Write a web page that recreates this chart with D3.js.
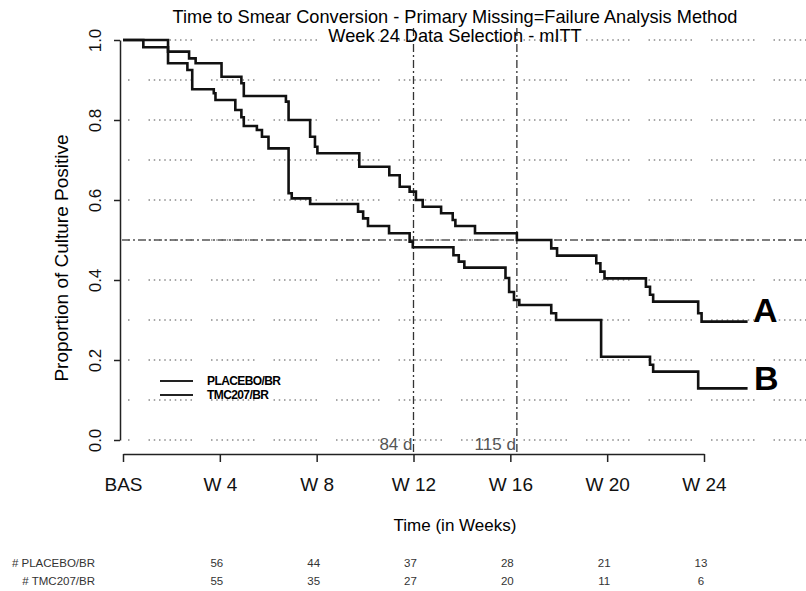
<!DOCTYPE html>
<html>
<head>
<meta charset="utf-8">
<script src="https://cdn.jsdelivr.net/npm/d3@7"></script>
<style>
	body { margin: 0; background: #fff; }
	text { font-family: "Liberation Sans", Arial, sans-serif; }
</style>
</head>
<body>
<svg id="canvas"></svg>
<script>
let width = 806;
let height = 591;

// tick labels on the time axis (weeks)
let tickWeeks = [0, 4, 8, 12, 16, 20, 24];
let tickLabels = ['BAS', 'W 4', 'W 8', 'W 12', 'W 16', 'W 20', 'W 24'];
let yTicks = [0, 0.2, 0.4, 0.6, 0.8, 1.0];
let gridValues = [0, 0.1, 0.2, 0.3, 0.4, 0.5, 0.6, 0.7, 0.8, 0.9, 1.0];

// Kaplan-Meier steps: [week, proportion after the drop]
let placeboSteps = [
	[0, 1.0], [1.86, 0.971], [2.73, 0.954], [3.0, 0.942], [4.07, 0.908], [4.89, 0.892],
	[4.99, 0.86], [6.73, 0.846], [6.84, 0.80], [7.73, 0.758], [7.93, 0.733], [8.03, 0.717],
	[9.76, 0.683], [11.0, 0.662], [11.43, 0.633], [11.84, 0.621], [12.1, 0.60], [12.38, 0.583],
	[13.14, 0.567], [13.62, 0.55], [13.73, 0.535], [14.54, 0.517], [16.27, 0.50], [17.69, 0.479],
	[17.93, 0.461], [19.55, 0.442], [19.72, 0.421], [19.89, 0.404], [21.6, 0.383], [21.77, 0.363],
	[21.9, 0.346], [23.76, 0.317], [23.9, 0.296]
];
let tmcSteps = [
	[0, 1.0], [0.84, 0.982], [1.86, 0.942], [2.66, 0.925], [2.86, 0.877], [3.75, 0.867],
	[3.82, 0.85], [4.64, 0.825], [4.89, 0.807], [4.99, 0.785], [5.53, 0.775], [5.74, 0.758],
	[6.01, 0.729], [6.84, 0.617], [6.97, 0.604], [7.73, 0.59], [9.71, 0.571], [9.92, 0.554],
	[10.12, 0.535], [10.99, 0.517], [11.84, 0.496], [11.97, 0.482], [13.65, 0.462], [13.87, 0.446],
	[14.1, 0.431], [15.8, 0.405], [15.95, 0.37], [16.15, 0.35], [16.37, 0.3375], [17.69, 0.317],
	[17.89, 0.30], [19.75, 0.208], [21.77, 0.188], [21.9, 0.171], [23.76, 0.129]
];
let lastWeek = 25.8;

// median reference lines
let refWeeks = [12, 16.27];
let refLabels = ['84 d', '115 d'];

// number at risk table
let riskWeeks = [4, 8, 12, 16, 20, 24];
let placeboAtRisk = [56, 44, 37, 28, 21, 13];
let tmcAtRisk = [55, 35, 27, 20, 11, 6];

let canvas = d3.select('#canvas').attr('width', width).attr('height', height);
canvas.append('rect').attr('width', width).attr('height', height).attr('fill', '#fff');

let xScale = d3.scaleLinear().domain([0, 24]).range([123, 704]);
let yScale = d3.scaleLinear().domain([0, 1]).range([440, 40]);

// dotted grid, drawn in groups of dots like the scan
let dots = [];
for (let i = 0; i < 8; i++) dots.push(1.5, 3.75);
dots.push(1.5, 19);
canvas.append('g').selectAll('line').data(gridValues).join('line')
	.attr('x1', 126).attr('x2', width)
	.attr('y1', d => yScale(d)).attr('y2', d => yScale(d))
	.attr('stroke', '#8a8a8a').attr('stroke-width', 1.3)
	.attr('stroke-dasharray', dots.join(','))
	.attr('stroke-dashoffset', 40);

// median line at 0.5
canvas.append('line')
	.attr('x1', 122).attr('x2', width)
	.attr('y1', yScale(0.5)).attr('y2', yScale(0.5))
	.attr('stroke', '#555').attr('stroke-width', 1.3)
	.attr('stroke-dasharray', '8,3,2,3');

// vertical reference lines
canvas.append('g').selectAll('line').data(refWeeks).join('line')
	.attr('x1', d => xScale(d)).attr('x2', d => xScale(d))
	.attr('y1', 28).attr('y2', 454)
	.attr('stroke', '#333').attr('stroke-width', 1.3)
	.attr('stroke-dasharray', '8,3,2,3');

canvas.append('g').selectAll('text').data(refWeeks).join('text')
	.attr('x', d => xScale(d) - 1).attr('y', 450)
	.attr('text-anchor', 'end').attr('font-size', 17).attr('fill', '#555')
	.text((d, i) => refLabels[i]);

// axes
let xAxis = d3.axisBottom(xScale).tickValues(tickWeeks).tickFormat((d, i) => tickLabels[i])
	.tickSize(8).tickSizeOuter(0).tickPadding(16);
let gx = canvas.append('g').attr('transform', 'translate(0, 454)').call(xAxis);
gx.selectAll('path, line').attr('stroke', '#222').attr('stroke-width', 1.5);
gx.selectAll('text').attr('font-size', 19).attr('font-family', '"Liberation Sans", Arial, sans-serif').attr('fill', '#111');

let yAxis = d3.axisLeft(yScale).tickValues(yTicks).tickFormat(d3.format('.1f'))
	.tickSize(6).tickSizeOuter(0);
let gy = canvas.append('g').attr('transform', 'translate(120, 0)').call(yAxis);
gy.selectAll('path, line').attr('stroke', '#222').attr('stroke-width', 1.5);
gy.selectAll('text')
	.attr('x', 0).attr('dy', 0)
	.attr('text-anchor', 'middle')
	.attr('transform', 'translate(-19, 0) rotate(-90)')
	.attr('font-size', 17).attr('font-family', '"Liberation Sans", Arial, sans-serif').attr('fill', '#111');

// survival curves
let line = d3.line().x(d => xScale(d[0])).y(d => yScale(d[1])).curve(d3.curveStepAfter);
let curves = [placeboSteps, tmcSteps];
canvas.append('g').selectAll('path').data(curves).join('path')
	.attr('d', d => line(d.concat([[lastWeek, d[d.length - 1][1]]])))
	.attr('fill', 'none').attr('stroke', '#111').attr('stroke-width', 2.6);

// A / B markers
canvas.append('text').attr('x', 753).attr('y', 322).attr('font-size', 34).attr('font-weight', 'bold').text('A');
canvas.append('text').attr('x', 754).attr('y', 390).attr('font-size', 34).attr('font-weight', 'bold').text('B');

// titles
canvas.append('text').attr('x', 455).attr('y', 23).attr('text-anchor', 'middle').attr('font-size', 18.2)
	.text('Time to Smear Conversion - Primary Missing=Failure Analysis Method');
canvas.append('text').attr('x', 455).attr('y', 42).attr('text-anchor', 'middle').attr('font-size', 18.2)
	.text('Week 24 Data Selection - mITT');
canvas.append('text').attr('x', 455).attr('y', 531).attr('text-anchor', 'middle').attr('font-size', 17)
	.text('Time (in Weeks)');
canvas.append('text').attr('transform', 'translate(68, 258) rotate(-90)').attr('text-anchor', 'middle')
	.attr('font-size', 19).text('Proportion of Culture Positive');

// legend
let legendNames = ['PLACEBO/BR', 'TMC207/BR'];
let legend = canvas.append('g').selectAll('g').data(legendNames).join('g')
	.attr('transform', (d, i) => `translate(160, ${381 + i * 14})`);
legend.append('line').attr('x1', 0).attr('x2', 33).attr('stroke', '#222').attr('stroke-width', 2);
legend.append('text').attr('x', 47).attr('y', 4).attr('font-size', 12).attr('font-weight', 'bold')
	.attr('letter-spacing', -0.6).text(d => d);

// number at risk
let riskRows = [placeboAtRisk, tmcAtRisk];
let rowNames = ['# PLACEBO/BR', '# TMC207/BR'];
riskRows.forEach((row, r) => {
	let yy = 567 + r * 18;
	canvas.append('text').attr('x', 95).attr('y', yy).attr('text-anchor', 'end')
		.attr('font-size', 11.5).attr('fill', '#333').text(rowNames[r]);
	canvas.append('g').selectAll('text').data(row).join('text')
		.attr('x', (d, i) => xScale(riskWeeks[i]) - 3).attr('y', yy)
		.attr('text-anchor', 'middle').attr('font-size', 11.5).attr('fill', '#333')
		.text(d => d);
});
</script>
</body>
</html>
